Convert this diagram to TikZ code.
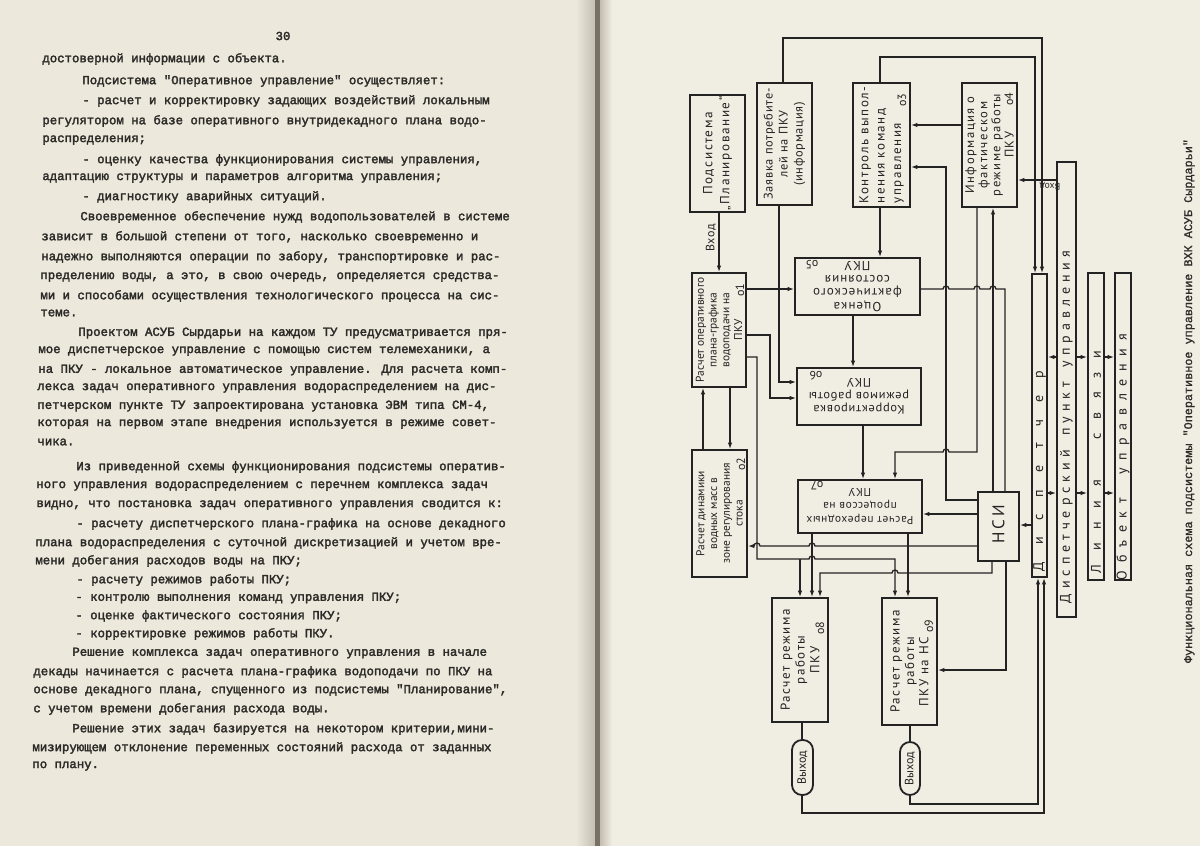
\documentclass[tikz,border=0pt]{standalone}
\usepackage{fontspec}
\setmainfont{PT Sans}
\newfontfamily\dgA[LetterSpace=12]{PT Sans}
\newfontfamily\dgB[LetterSpace=6]{PT Sans}
\newfontfamily\dgD[LetterSpace=8]{PT Sans}
\newfontfamily\dgC{PT Sans}
\newfontfamily\twfam[FakeBold=2.5]{Liberation Mono}
\newfontfamily\capfam[FakeBold=1]{Liberation Mono}
\usetikzlibrary{arrows.meta}
\definecolor{ink}{RGB}{35,35,35}
\definecolor{inkT}{RGB}{45,43,40}
\definecolor{paperL}{RGB}{236,232,220}
\definecolor{paperR}{RGB}{240,237,226}
\definecolor{gutA}{RGB}{196,190,178}
\definecolor{gutB}{RGB}{118,112,102}
\newcommand\fs[2]{\fontsize{#1}{#2}\selectfont}
\newcommand\tl[4]{\node[tw] (#1) at (#2,#3) {#4};}
\begin{document}
\begin{tikzpicture}[x=0.5pt,y=-0.5pt,
 box/.style={draw=ink,line width=0.9pt,inner sep=0pt,rectangle},
 con/.style={draw=ink,line width=0.65pt},
 arr/.style={con,-{Latex[length=3.2pt,width=2.2pt]}},
 lab/.style={text=ink,inner sep=0pt,align=center},
 t90/.style={lab,rotate=90},
 t180/.style={lab,rotate=180},
 fB/.style={font=\dgC\fs{5.7}{6.4}},
 fM/.style={font=\dgC\fs{6}{7}},
 fL/.style={font=\dgC\fs{7}{8}},
 tw/.style={anchor=west,inner sep=0pt,text=inkT,font=\twfam\fs{6.17}{7}},
]
\useasboundingbox (0,0) rectangle (1200,846);
% paper
\fill[paperL] (0,0) rectangle (598,846);
\fill[paperR] (598,0) rectangle (1200,846);
\shade[left color=paperL,right color=gutA] (576,0) rectangle (595,846);
\fill[gutB] (595,0) rectangle (600,846);
\shade[left color=gutA,right color=paperR] (600,0) rectangle (612,846);

% ---------- left page ----------
\node[tw,anchor=center] (pnum) at (283,36) {30};
\tl{L1}{42}{59}{достоверной информации с объекта.}
\tl{L2}{82}{81}{Подсистема "Оперативное управление" осуществляет:}
\tl{L3}{82}{101}{- расчет и корректировку задающих воздействий локальным}
\tl{L4}{42}{121}{регулятором на базе оперативного внутридекадного плана водо-}
\tl{L5}{42}{140}{распределения;}
\tl{L6}{82}{160}{- оценку качества функционирования системы управления,}
\tl{L7}{42}{178}{адаптацию структуры и параметров алгоритма управления;}
\tl{L8}{82}{197}{- диагностику аварийных ситуаций.}
\tl{L9}{80}{217}{Своевременное обеспечение нужд водопользователей в системе}
\tl{L10}{41}{237}{зависит в большой степени от того, насколько своевременно и}
\tl{L11}{41}{257}{надежно выполняются операции по забору, транспортировке и рас-}
\tl{L12}{40}{277}{пределению воды, а это, в свою очередь, определяется средства-}
\tl{L13}{40}{296}{ми и способами осуществления технологического процесса на сис-}
\tl{L14}{40}{313}{теме.}
\tl{L15}{78}{333}{Проектом АСУБ Сырдарьи на каждом ТУ предусматривается пря-}
\tl{L16}{38}{351}{мое диспетчерское управление с помощью систем телемеханики, а}
\tl{L17}{38}{370}{на ПКУ - локальное автоматическое управление. Для расчета комп-}
\tl{L18}{37}{388}{лекса задач оперативного управления водораспределением на дис-}
\tl{L19}{37}{406}{петчерском пункте ТУ запроектирована установка ЭВМ типа СМ-4,}
\tl{L20}{37}{424}{которая на первом этапе внедрения используется в режиме совет-}
\tl{L21}{37}{442}{чика.}
\tl{L22}{76}{467}{Из приведенной схемы функционирования подсистемы оператив-}
\tl{L23}{36}{486}{ного управления водораспределением с перечнем комплекса задач}
\tl{L24}{36}{505}{видно, что постановка задач оперативного управления сводится к:}
\tl{L25}{76}{524}{- расчету диспетчерского плана-графика на основе декадного}
\tl{L26}{35}{543}{плана водораспределения с суточной дискретизацией и учетом вре-}
\tl{L27}{35}{561}{мени добегания расходов воды на ПКУ;}
\tl{L28}{76}{580}{- расчету режимов работы ПКУ;}
\tl{L29}{75}{598}{- контролю выполнения команд управления ПКУ;}
\tl{L30}{75}{616}{- оценке фактического состояния ПКУ;}
\tl{L31}{75}{634}{- корректировке режимов работы ПКУ.}
\tl{L32}{72}{653}{Решение комплекса задач оперативного управления в начале}
\tl{L33}{33}{672}{декады начинается с расчета плана-графика водоподачи по ПКУ на}
\tl{L34}{33}{690}{основе декадного плана, спущенного из подсистемы "Планирование",}
\tl{L35}{33}{709}{с учетом времени добегания расхода воды.}
\tl{L36}{72}{729}{Решение этих задач базируется на некотором критерии,мини-}
\tl{L37}{32}{748}{мизирующем отклонение переменных состояний расхода от заданных}
\tl{L38}{32}{766}{по плану.}

% ---------- diagram boxes ----------
\node[box,minimum width=27.5pt,minimum height=58.5pt] (bPlan) at (717.5,153.5) {};
\node[box,minimum width=27.5pt,minimum height=61pt] (bZay) at (784.5,144) {};
\node[box,minimum width=28.5pt,minimum height=62pt] (bKon) at (881.5,145) {};
\node[box,minimum width=27.5pt,minimum height=62pt] (bInf) at (989.5,145) {};
\node[box,minimum width=27pt,minimum height=57pt] (b01) at (719,330) {};
\node[box,minimum width=27.5pt,minimum height=63.5pt] (b02) at (719.5,513.5) {};
\node[box,minimum width=62.5pt,minimum height=28.5pt] (b05) at (857.5,286.5) {};
\node[box,minimum width=62pt,minimum height=28.5pt] (b06) at (859,396.5) {};
\node[box,minimum width=62pt,minimum height=26.5pt] (b07) at (860,506.5) {};
\node[box,minimum width=20.5pt,minimum height=34.5pt] (bNSI) at (998.5,526.5) {};
\node[box,minimum width=28pt,minimum height=62pt] (b08) at (800,660) {};
\node[box,minimum width=27.5pt,minimum height=63.5pt] (b09) at (909.5,661.5) {};
\node[box,rounded corners=5pt,minimum width=10.5pt,minimum height=27.5pt] (out1) at (802.5,767.5) {};
\node[box,rounded corners=5pt,minimum width=10pt,minimum height=26.5pt] (out2) at (910,768.5) {};
\node[box,minimum width=7.5pt,minimum height=151.5pt] (bDisp) at (1039.5,425.5) {};
\node[box,minimum width=9.5pt,minimum height=227.5pt] (bDPU) at (1066.5,389.5) {};
\node[box,minimum width=8pt,minimum height=153.5pt] (bLin) at (1096,426.5) {};
\node[box,minimum width=8pt,minimum height=153.5pt] (bObj) at (1123,426.5) {};

% ---------- box texts ----------
\node[t90,font=\dgA\fs{6.6}{8.5}] (tPlan) at (bPlan.center) {Подсистема\\„Планирование“};
\node[t90,font=\dgB\fs{6.2}{7.5}] (tZay) at (bZay.center) {Заявка потребите-\\лей на ПКУ\\(информация)};
\node[t90,align=left,font=\dgA\fs{6.5}{8.2}] (tKon) at (bKon.center) {Контроль выпол-\\нения команд\\управления};
\node[t90,font=\dgA\fs{6.3}{6.6}] (tInf) at (bInf.center) {Информация о\\фактическом\\режиме работы\\ПКУ};
\node[t90,fB] (t01) at (b01.center) {Расчет оперативного\\плана-графика\\водоподачи на\\ПКУ};
\node[t90,fB] (t02) at (b02.center) {Расчет динамики\\водных масс в\\зоне регулирования\\стока};
\node[t180,font=\dgD\fs{6.5}{6.8}] (t05) at (b05.center) {Оценка\\фактического\\состояния\\ПКУ};
\node[t180,font=\dgB\fs{6.2}{6.8}] (t06) at (b06.center) {Корректировка\\режимов работы\\ПКУ};
\node[t180,font=\dgB\fs{5.7}{6.8}] (t07) at (b07.center) {Расчет переходных\\процессов на\\ПКУ};
\node[t90,font=\dgA\fs{6.5}{7.4}] (t08) at (b08.center) {Расчет режима\\работы\\ПКУ};
\node[t90,font=\dgA\fs{6.5}{7.2}] (t09) at (b09.center) {Расчет режима\\работы\\ПКУ на НС\hphantom{ оо}};
\node[t90,font=\dgC\fs{8.5}{9}] (tNSI) at (bNSI.center) {\makebox[17pt][s]{Н С И}};
\node[t90,fM] (tOut1) at (out1.center) {Выход};
\node[t90,fM] (tOut2) at (out2.center) {Выход};
\node[t90,fL] (tDisp) at (1039.5,471) {\makebox[100pt][s]{Д и с п е т ч е р}};
\node[t90,fL] (tDPU) at (1066.5,427) {\makebox[176pt][s]{Д и с п е т ч е р с к и й\ \ \ п у н к т\ \ \ у п р а в л е н и я}};
\node[t90,fL] (tLin) at (1096,462) {\makebox[111pt][s]{Л и н и я\ \ \ с в я з и}};
\node[t90,fL] (tObj) at (1123,457) {\makebox[123pt][s]{О б ъ е к т\ \ \ у п р а в л е н и я}};

% markers
\node[t90,fM] (m1) at (740,290) {о1};
\node[t90,fM] (m2) at (741,464) {о2};
\node[t90,fM] (m3) at (902,100) {о3};
\node[t90,fM] (m4) at (1009,99) {о4};
\node[t180,fM] (m5) at (812,265) {о5};
\node[t180,fM] (m6) at (816,376) {о6};
\node[t180,fM] (m7) at (817,486) {о7};
\node[t90,fM] (m8) at (820,628) {о8};
\node[t90,fM] (m9) at (929,626) {о9};

% labels
\node[t90,font=\dgB\fs{6}{7}] (lIn1) at (711,238) {Вход};
\node[t180,font=\dgC\fs{4.8}{5}] (lIn2) at (1050,186) {Вход};
\node[t90,text=inkT,font=\capfam\fs{5.9}{7}] (cap) at (1189,401) {Функциональная схема подсистемы "Оперативное управление ВХК АСУБ Сырдарьи"};

% ---------- connectors ----------
\draw[arr] (bPlan.south -| 719,0) -- (b01.north -| 719,0);
\draw[arr] (bZay.north -| 783,0) -- (783,38) -- (1042,38) -- (bDisp.north -| 1042,0);
\draw[arr] (bKon.north -| 880,0) -- (880,57) -- (1035,57) -- (bDisp.north -| 1035,0);
\draw[arr] (bInf.west |- 0,125) -- (bKon.east |- 0,125);
\draw[arr] (bNSI.west |- 0,500) -- (946,500) -- (946,167) -- (bKon.east |- 0,167);
\draw[arr] (bKon.south -| 880,0) -- (b05.north -| 880,0);
\draw[arr] (bInf.south -| 977,0) -- (977,452) -- (949,452) arc[start angle=0,end angle=-180,radius=3] -- (895,452) -- (b07.north -| 895,0);
\draw[arr] (bNSI.north -| 993,0) -- (bInf.south -| 993,0);
\draw[con] (b05.east |- 0,289) -- (943,289) arc[start angle=180,end angle=360,radius=3]
  -- (974,289) arc[start angle=180,end angle=360,radius=3]
  -- (990,289) arc[start angle=180,end angle=360,radius=3]
  -- (1005,289) -- (bNSI.north -| 1005,0);
\draw[arr] (bDPU.west |- 0,180) -- (bInf.east |- 0,180);
\draw[arr] (b01.east |- 0,289) -- (b05.west |- 0,289);
\draw[arr] (bZay.south -| 779,0) -- (779,382) -- (b06.west |- 0,382);
\draw[arr] (b01.east |- 0,335) -- (770,335) -- (770,398) -- (b06.west |- 0,398);
\draw[arr] (b05.south -| 853,0) -- (b06.north -| 853,0);
\draw[arr] (b06.south -| 863,0) -- (b07.north -| 863,0);
\draw[arr] (b02.north -| 703,0) -- (b01.south -| 703,0);
\draw[arr] (b01.south -| 730,0) -- (b02.north -| 730,0);
\draw[arr] (b01.east |- 0,357) -- (757,357) -- (757,559) -- (809,559) arc[start angle=180,end angle=360,radius=3] -- (895,559) -- (b09.north -| 895,0);
\coordinate (j1) at (800,559);
\draw[arr] (j1) -- (b08.north -| j1);
\draw[arr] (bNSI.west |- 0,546) -- (815,546) arc[start angle=0,end angle=-180,radius=3] -- (760,546) arc[start angle=0,end angle=-180,radius=3] -- (b02.east |- 0,546);
\draw[arr] (b07.south -| 812,0) -- (b08.north -| 812,0);
\draw[arr] (b07.south -| 908,0) -- (b09.north -| 908,0);
\draw[arr] (bNSI.south -| 992,0) -- (992,573) -- (898,573) arc[start angle=0,end angle=-180,radius=3] -- (820,573) -- (b08.north -| 820,0);
\draw[arr] (bNSI.south -| 1006,0) -- (1006,670) -- (b09.east |- 0,670);
\draw[arr] (bNSI.west |- 0,514) -- (b07.east |- 0,514);
\draw[arr] (bDisp.west |- 0,525) -- (bNSI.east |- 0,525);
\draw[con] (b08.south -| 802,0) -- (out1.north -| 802,0);
\draw[arr] (out1.south -| 802,0) -- (802,813) -- (1044,813) -- (bDisp.south -| 1044,0);
\draw[con] (b09.south -| 910,0) -- (out2.north -| 910,0);
\draw[arr] (out2.south -| 910,0) -- (910,804) -- (1038,804) -- (bDisp.south -| 1038,0);
\draw[arr] (bDPU.west |- 0,357) -- (bDisp.east |- 0,357);
\draw[arr] (bDisp.east |- 0,493) -- (bDPU.west |- 0,493);
\draw[arr] (bDPU.east |- 0,357) -- (bLin.west |- 0,357);
\draw[arr] (bDPU.east |- 0,493) -- (bLin.west |- 0,493);
\draw[arr] (bLin.east |- 0,357) -- (bObj.west |- 0,357);
\draw[arr] (bLin.east |- 0,493) -- (bObj.west |- 0,493);
\end{tikzpicture}
\end{document}
